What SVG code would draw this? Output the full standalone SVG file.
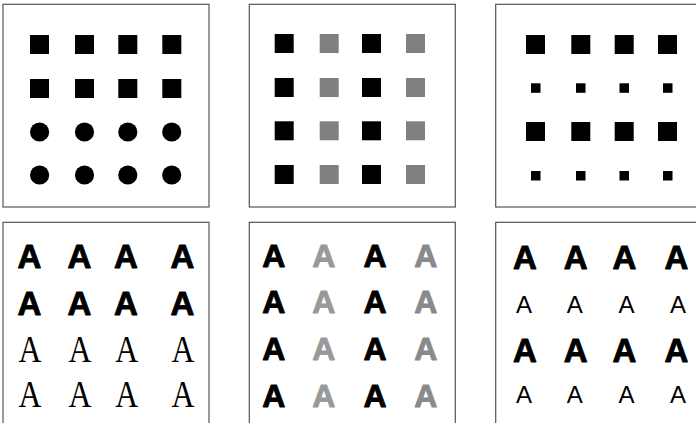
<svg xmlns="http://www.w3.org/2000/svg" width="696" height="423" viewBox="0 0 696 423">
<style>
.frame{fill:#fff;stroke:#555;stroke-width:1.2}
.k{fill:#000}
.g{fill:#808080}
.b{font-family:"Liberation Sans",Arial,sans-serif;font-weight:bold;text-anchor:middle;stroke-width:0.9;stroke-linejoin:round}
.r{font-family:"Liberation Sans",Arial,sans-serif;text-anchor:middle}
.s{font-family:"Liberation Serif","Times New Roman",serif;text-anchor:middle}
</style>
<rect width="696" height="423" fill="#fff"/>
<g id="panel1">
<rect class="frame" x="3" y="4.3" width="206" height="202.7"/>
<g class="k">
<rect x="30" y="35" width="19" height="19"/><rect x="75" y="35" width="19" height="19"/><rect x="118.3" y="35" width="19" height="19"/><rect x="162.3" y="35" width="19" height="19"/>
<rect x="30" y="79" width="19" height="19"/><rect x="75" y="79" width="19" height="19"/><rect x="118.3" y="79" width="19" height="19"/><rect x="162.3" y="79" width="19" height="19"/>
<circle cx="39.6" cy="132" r="9.6"/><circle cx="84.5" cy="132" r="9.6"/><circle cx="127.8" cy="132" r="9.6"/><circle cx="171.7" cy="132" r="9.6"/>
<circle cx="39.6" cy="175" r="9.6"/><circle cx="84.5" cy="175" r="9.6"/><circle cx="127.8" cy="175" r="9.6"/><circle cx="171.7" cy="175" r="9.6"/>
</g>
</g>
<g id="panel2">
<rect class="frame" x="249.3" y="4.3" width="206" height="202.7"/>
<g class="k">
<rect x="274.7" y="34" width="19" height="19"/><rect x="362" y="34" width="19" height="19"/>
<rect x="274.7" y="78" width="19" height="19"/><rect x="362" y="78" width="19" height="19"/>
<rect x="274.7" y="121.3" width="19" height="19"/><rect x="362" y="121.3" width="19" height="19"/>
<rect x="274.7" y="165" width="19" height="19"/><rect x="362" y="165" width="19" height="19"/>
</g>
<g class="g">
<rect x="319.7" y="34" width="19" height="19"/><rect x="406" y="34" width="19" height="19"/>
<rect x="319.7" y="78" width="19" height="19"/><rect x="406" y="78" width="19" height="19"/>
<rect x="319.7" y="121.3" width="19" height="19"/><rect x="406" y="121.3" width="19" height="19"/>
<rect x="319.7" y="165" width="19" height="19"/><rect x="406" y="165" width="19" height="19"/>
</g>
</g>
<g id="panel3">
<rect class="frame" x="495.7" y="4.3" width="210" height="202.7"/>
<g class="k">
<rect x="526" y="35" width="19" height="19"/><rect x="571.3" y="35" width="19" height="19"/><rect x="614.7" y="35" width="19" height="19"/><rect x="658" y="35" width="19" height="19"/>
<rect x="531" y="83.3" width="9.5" height="9.5"/><rect x="576" y="83.3" width="9.5" height="9.5"/><rect x="619.5" y="83.3" width="9.5" height="9.5"/><rect x="663" y="83.3" width="9.5" height="9.5"/>
<rect x="526" y="122" width="19" height="19"/><rect x="571.3" y="122" width="19" height="19"/><rect x="614.7" y="122" width="19" height="19"/><rect x="658" y="122" width="19" height="19"/>
<rect x="531" y="171" width="9.5" height="9.5"/><rect x="576" y="171" width="9.5" height="9.5"/><rect x="619.5" y="171" width="9.5" height="9.5"/><rect x="663" y="171" width="9.5" height="9.5"/>
</g>
</g>
<g id="panel4">
<rect class="frame" x="3" y="222.3" width="206" height="210"/>
<g class="b" font-size="33" fill="#000" stroke="#000">
<text x="29.5" y="268">A</text><text x="79.5" y="268">A</text><text x="126" y="268">A</text><text x="182.5" y="268">A</text>
<text x="29.5" y="315">A</text><text x="79.5" y="315">A</text><text x="126" y="315">A</text><text x="182.5" y="315">A</text>
</g>
<g class="s" font-size="37" transform="scale(0.86 1)">
<text x="34.9" y="361.7">A</text><text x="93" y="361.7">A</text><text x="147.3" y="361.7">A</text><text x="212.8" y="361.7">A</text>
<text x="34.9" y="406.7">A</text><text x="93" y="406.7">A</text><text x="147.3" y="406.7">A</text><text x="212.8" y="406.7">A</text>
</g>
</g>
<g id="panel5">
<rect class="frame" x="249.3" y="222.3" width="206" height="210"/>
<g class="b" font-size="32">
<g fill="#000" stroke="#000">
<text x="273.8" y="267.3">A</text><text x="375" y="267.3">A</text>
<text x="273.8" y="313.3">A</text><text x="375" y="313.3">A</text>
<text x="273.8" y="360">A</text><text x="375" y="360">A</text>
<text x="273.8" y="407">A</text><text x="375" y="407">A</text>
</g>
<g fill="#999" stroke="#999">
<text x="323.7" y="267.3">A</text><text x="323.7" y="313.3">A</text><text x="323.7" y="360">A</text><text x="323.7" y="407">A</text>
</g>
<g fill="#8a8a8a" stroke="#8a8a8a">
<text x="425.7" y="267.3">A</text><text x="425.7" y="313.3">A</text><text x="425.7" y="360">A</text><text x="425.7" y="407">A</text>
</g>
</g>
</g>
<g id="panel6">
<rect class="frame" x="495.7" y="222.3" width="210" height="210"/>
<g class="b" font-size="33" fill="#000" stroke="#000">
<text x="524.8" y="269.3">A</text><text x="575.7" y="269.3">A</text><text x="624.5" y="269.3">A</text><text x="676.5" y="269.3">A</text>
<text x="524.8" y="361.7">A</text><text x="575.7" y="361.7">A</text><text x="624.5" y="361.7">A</text><text x="676.5" y="361.7">A</text>
</g>
<g class="r" font-size="24">
<text x="524" y="313.3">A</text><text x="574.8" y="313.3">A</text><text x="626.5" y="313.3">A</text><text x="678" y="313.3">A</text>
<text x="524" y="403.3">A</text><text x="574.8" y="403.3">A</text><text x="626.5" y="403.3">A</text><text x="678" y="403.3">A</text>
</g>
</g>
<g id="connectors"/>
</svg>
